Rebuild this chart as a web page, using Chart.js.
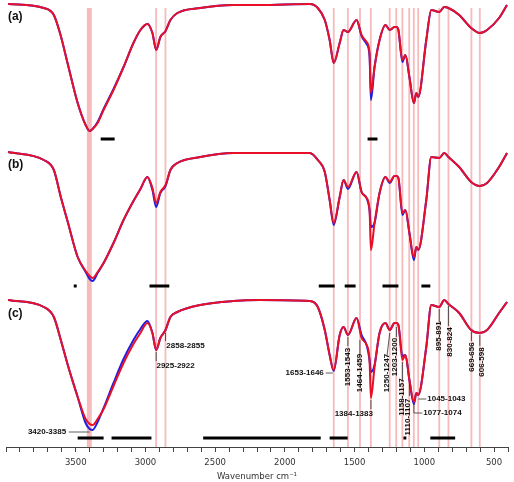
<!DOCTYPE html>
<html>
<head>
<meta charset="utf-8">
<script src="https://cdn.jsdelivr.net/npm/chart.js@4.4.1/dist/chart.umd.min.js"></script>
<style>
  body { margin: 0; background: #fff; }
  #wrap { width: 514px; height: 482px; }
</style>
</head>
<body>
<div id="wrap"><canvas id="ftir" width="514" height="482"></canvas></div>
<script>
// shared wavenumber grid (cm-1)
const wavenumbers = [3985, 3729, 3657, 3607, 3557, 3486, 3429, 3400, 3379, 3343,
	3300, 3229, 3157, 3086, 3036, 2986, 2950, 2923, 2893, 2856,
	2821, 2771, 2607, 2371, 2179, 1821, 1764, 1714, 1679, 1650,
	1607, 1579, 1548, 1486, 1450, 1414, 1393, 1383, 1357, 1321,
	1279, 1248, 1214, 1200, 1186, 1157, 1136, 1107, 1075, 1057,
	1044, 986, 950, 893, 857, 827, 750, 664, 602, 550,
	464, 407];

// stacked spectra, offset units (0 = top of the plot, grows downward)
const specARed = [4, 8, 15, 36, 64, 103, 125, 131, 129, 123,
	110, 90, 67, 43, 30, 24, 33, 50, 37, 31,
	20, 13, 8, 5, 5, 4, 8, 20, 40, 63,
	43, 30, 32, 20, 35, 42, 53, 93, 67, 40,
	25, 30, 27, 27, 30, 60, 55, 77, 103, 93,
	97, 40, 10, 12, 7, 8, 15, 28, 33, 30,
	18, 5];
const specABlue = [4, 8, 15, 36, 64, 103, 125, 131, 129, 122,
	109, 89, 67, 43, 30, 24, 33, 50, 37, 31,
	20, 13, 8, 5, 5, 4, 8, 20, 40, 63,
	43, 30, 32, 20, 36, 44, 56, 100, 67, 40,
	25, 30, 27, 27, 30, 62, 55, 77, 103, 93,
	97, 40, 10, 12, 7, 8, 15, 28, 33, 30,
	18, 5];
const specBRed = [152, 160, 170, 197, 222, 257, 271, 276, 278, 272,
	263, 243, 220, 201, 189, 177, 188, 203, 192, 185,
	170, 163, 157, 153, 153, 153, 160, 172, 200, 223,
	197, 180, 187, 172, 192, 198, 210, 250, 223, 193,
	177, 182, 176, 176, 178, 213, 210, 233, 257, 247,
	250, 200, 157, 158, 153, 157, 167, 182, 186, 183,
	167, 153];
const specBBlue = [152, 160, 170, 197, 222, 257, 272, 279, 281, 273,
	263, 243, 220, 201, 189, 177, 190, 207, 193, 186,
	170, 163, 157, 153, 153, 153, 160, 172, 200, 225,
	197, 180, 189, 172, 192, 198, 210, 227, 223, 193,
	177, 183, 176, 176, 178, 215, 210, 233, 260, 247,
	250, 200, 157, 158, 153, 157, 167, 182, 186, 183,
	167, 153];
const specCRed = [300, 307, 317, 340, 365, 397, 419, 424, 425, 419,
	409, 386, 363, 344, 333, 323, 333, 350, 338, 330,
	317, 312, 305, 301, 300, 301, 307, 330, 355, 370,
	335, 327, 335, 318, 338, 345, 360, 398, 367, 333,
	323, 330, 323, 323, 325, 360, 355, 380, 402, 393,
	395, 347, 305, 307, 300, 304, 313, 330, 333, 330,
	313, 302];
const specCBlue = [300, 307, 317, 340, 365, 397, 423, 429, 430, 422,
	408, 383, 359, 340, 329, 321, 333, 350, 338, 330,
	317, 312, 305, 301, 300, 301, 307, 330, 355, 371,
	335, 327, 335, 318, 335, 345, 360, 372, 365, 333,
	323, 330, 323, 323, 325, 356, 355, 380, 404, 393,
	395, 347, 305, 307, 300, 304, 313, 330, 333, 330,
	313, 302];

// pink marker bands (cm-1 ranges)
const bands = [[3420, 3385], [2925, 2922], [2858, 2855], [1653, 1646], [1553, 1543],
	[1464, 1459], [1384, 1383], [1250, 1247], [1203, 1200], [1158, 1157],
	[1110, 1107], [1077, 1074], [1045, 1043], [895, 891], [830, 824],
	[669, 656], [606, 598]];

// black range bars under each spectrum
const barsA = [[3321, 3221], [1407, 1336]];
const barsB = [[3514, 3493], [2971, 2829], [1757, 1643], [1571, 1493], [1300, 1186], [1021, 957]];
const barsC = [[3486, 3300], [3243, 2957], [2586, 1743], [1679, 1550], [1150, 1129], [957, 779]];
const barLevels = [139, 286, 438];

const panelNames = ["(a)", "(b)", "(c)"];
const panelNameY = [17, 165, 314];

// peak labels: text, wavenumber, level
const flatLabels = [
	["3420-3385", 3843, 432, "left"],
	["2925-2922", 2921, 366, "left"],
	["2858-2855", 2850, 346, "left"],
	["1653-1646", 1721, 373, "right"],
	["1384-1383", 1643, 414, "left"],
	["1045-1043", 979, 399, "left"],
	["1077-1074", 1007, 413, "left"]
];
const upLabels = [
	["1553-1543", 1548, 367],
	["1464-1459", 1462, 373],
	["1250-1247", 1271, 373],
	["1203-1200", 1214, 357],
	["1158-1157", 1164, 397],
	["1110-1107", 1121, 417],
	["895-891", 893, 336],
	["830-824", 814, 342],
	["669-656", 657, 357],
	["606-598", 586, 362]
];
const leaders = [
	[[3550, 432], [3400, 432]],
	[[2923, 352], [2923, 361]],
	[[2856, 333], [2856, 341]],
	[[1707, 373], [1657, 373]],
	[[1383, 400], [1383, 409]],
	[[1548, 337], [1548, 346]],
	[[1462, 340], [1462, 354]],
	[[1248, 333], [1268, 356]],
	[[1200, 327], [1200, 337]],
	[[1157, 362], [1157, 381]],
	[[1107, 383], [1107, 396]],
	[[1043, 399], [986, 399]],
	[[1075, 404], [1075, 413], [1014, 413]],
	[[893, 309], [893, 322]],
	[[827, 306], [827, 326]],
	[[662, 332], [662, 341]],
	[[602, 335], [602, 346]]
];

function toPoints(ys) {
	return wavenumbers.map((w, i) => ({ x: w, y: ys[i] }));
}

function barPoints(list, level) {
	const pts = [];
	list.forEach(([a, b]) => {
		pts.push({ x: a, y: level }, { x: b, y: level }, { x: b, y: null });
	});
	return pts;
}

const RED = "rgb(232, 16, 40)";
const BLUE = "rgb(30, 30, 225)";

function spectrum(ys, color, order) {
	return {
		data: toPoints(ys),
		borderColor: color,
		borderWidth: 2,
		cubicInterpolationMode: "monotone",
		pointRadius: 0,
		order: order,
	};
}

function bar(list, level) {
	return {
		data: barPoints(list, level),
		borderColor: "#000",
		borderWidth: 3,
		borderCapStyle: "butt",
		pointRadius: 0,
		spanGaps: false,
		order: 0,
	};
}

// pink bands behind the curves
const bandPlugin = {
	id: "bands",
	beforeDatasetsDraw(chart) {
		const { ctx, chartArea, scales } = chart;
		const top = scales.y.getPixelForValue(8);
		ctx.save();
		ctx.fillStyle = "rgba(240, 120, 120, 0.5)";
		bands.forEach(([hi, lo]) => {
			let x1 = scales.x.getPixelForValue(hi);
			let x2 = scales.x.getPixelForValue(lo);
			let w = x2 - x1;
			if (w < 1.8) {
				const c = (x1 + x2) / 2;
				x1 = c - 0.9;
				w = 1.8;
			}
			ctx.fillRect(x1, top, w, chartArea.bottom - top);
		});
		ctx.restore();
	},
};

// panel letters, peak labels and leader lines
const labelPlugin = {
	id: "peakLabels",
	afterDatasetsDraw(chart) {
		const { ctx, scales } = chart;
		const X = (v) => scales.x.getPixelForValue(v);
		const Y = (v) => scales.y.getPixelForValue(v);
		ctx.save();

		ctx.fillStyle = "#111";
		ctx.font = "bold 12px 'Liberation Sans', Arial, sans-serif";
		ctx.textAlign = "left";
		ctx.textBaseline = "middle";
		panelNames.forEach((t, i) => ctx.fillText(t, X(3986), Y(panelNameY[i])));

		ctx.strokeStyle = "#333";
		ctx.lineWidth = 0.8;
		leaders.forEach((pts) => {
			ctx.beginPath();
			pts.forEach(([w, v], i) => {
				if (i === 0) ctx.moveTo(X(w), Y(v));
				else ctx.lineTo(X(w), Y(v));
			});
			ctx.stroke();
		});

		ctx.font = "bold 8px 'Liberation Sans', Arial, sans-serif";
		flatLabels.forEach(([t, w, v, align]) => {
			ctx.textAlign = align;
			ctx.fillText(t, X(w), Y(v));
		});
		ctx.textAlign = "center";
		upLabels.forEach(([t, w, v]) => {
			ctx.save();
			ctx.translate(X(w), Y(v));
			ctx.rotate(-Math.PI / 2);
			ctx.fillText(t, 0, 0);
			ctx.restore();
		});
		ctx.restore();
	},
};

const ctx = document.getElementById("ftir").getContext("2d");
const chart = new Chart(ctx, {
	type: "line",
	data: {
		datasets: [
			spectrum(specARed, RED, 1),
			spectrum(specABlue, BLUE, 2),
			spectrum(specBRed, RED, 1),
			spectrum(specBBlue, BLUE, 2),
			spectrum(specCRed, RED, 1),
			spectrum(specCBlue, BLUE, 2),
			bar(barsA, barLevels[0]),
			bar(barsB, barLevels[1]),
			bar(barsC, barLevels[2]),
		],
	},
	options: {
		responsive: false,
		animation: false,
		devicePixelRatio: 1,
		layout: { padding: { left: 5, right: 5, top: 0, bottom: 0 } },
		plugins: {
			legend: { display: false },
			tooltip: { enabled: false },
		},
		scales: {
			x: {
				type: "linear",
				min: 400,
				max: 4000,
				reverse: true,
				afterFit: (scale) => {
					scale.height = 35;
				},
				grid: {
					drawOnChartArea: false,
					tickLength: 5,
					color: "#444",
				},
				border: { color: "#444" },
				ticks: {
					stepSize: 100,
					autoSkip: false,
					maxRotation: 0,
					padding: 6,
					color: "#333",
					font: { family: "'DejaVu Sans'", size: 8.5 },
					callback: (v) => (v % 500 === 0 && v > 400 && v < 4000 ? v : ""),
				},
				title: {
					display: true,
					text: "Wavenumber cm\u207B\u00B9",
					color: "#333",
					font: { family: "'DejaVu Sans'", size: 8.5 },
					padding: { top: 0, bottom: 0 },
				},
			},
			y: {
				type: "linear",
				min: 0,
				max: 447,
				reverse: true,
				display: false,
			},
		},
	},
	plugins: [bandPlugin, labelPlugin],
});
</script>
</body>
</html>
